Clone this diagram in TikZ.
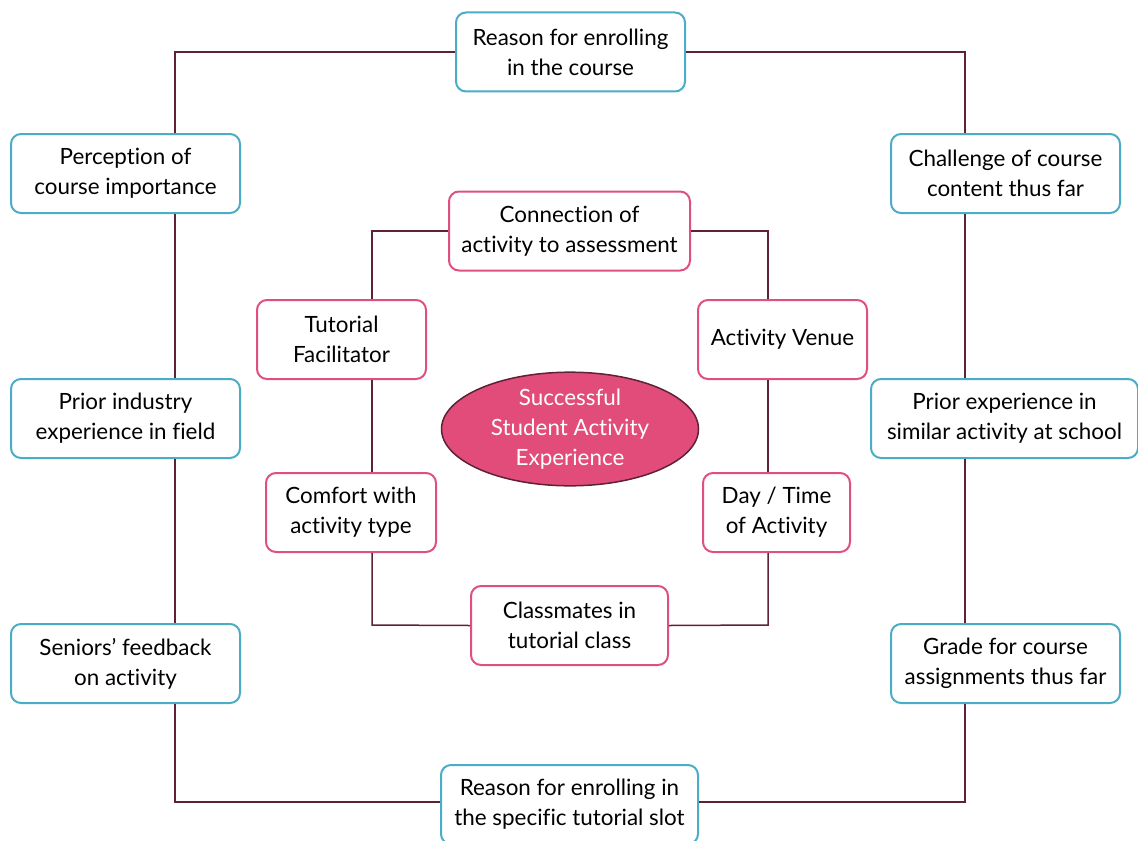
\documentclass[tikz,border=0pt]{standalone}
\usepackage{fontspec}
\setmainfont{Lato}[Ligatures=NoCommon]
\usetikzlibrary{shapes.geometric}
\definecolor{boxblue}{HTML}{4BACC6}
\definecolor{boxpink}{HTML}{E0507E}
\definecolor{ellfill}{HTML}{E24C7A}
\definecolor{linkline}{HTML}{5E2137}
\tikzset{
  base/.style={draw, rounded corners=5pt, line width=1pt, fill=white, align=center,
    minimum height=39.5pt, inner sep=1pt, font=\fontsize{11.2}{15}\selectfont},
  outerbox/.style={base, draw=boxblue},
  innerbox/.style={base, draw=boxpink},
  link/.style={draw=linkline, line width=0.75pt},
}
\begin{document}
\begin{tikzpicture}[x=0.5pt,y=-0.5pt]
    \useasboundingbox (0,0) rectangle (1138,840);
    % outer ring
    \node[outerbox, minimum width=114.5pt] (reason) at (570.5,52) {Reason for enrolling\\in the course};
    \node[outerbox, minimum width=114.5pt] (percep) at (125.5,173.5) {Perception of\\course importance};
    \node[outerbox, minimum width=114.5pt] (industry) at (125.5,418.5) {Prior industry\\experience in field};
    \node[outerbox, minimum width=114.5pt] (seniors) at (125.5,663.5) {Seniors' feedback\\on activity};
    \node[outerbox, minimum width=114.5pt] (challenge) at (1005.5,173.5) {Challenge of course\\content thus far};
    \node[outerbox, minimum width=133.5pt] (priorexp) at (1004.5,418.5) {Prior experience in\\similar activity at school};
    \node[outerbox, minimum width=114.5pt] (grade) at (1005.5,663.5) {Grade for course\\assignments thus far};
    \node[outerbox, minimum width=128.5pt] (slot) at (569.5,804.5) {Reason for enrolling in\\the specific tutorial slot};
    \coordinate (otl) at (175,52);
    \coordinate (otr) at (965,52);
    \coordinate (obl) at (175,802);
    \coordinate (obr) at (965,802);
    % inner ring
    \node[innerbox, minimum width=120.5pt] (assess) at (569.5,231) {Connection of\\activity to assessment};
    \node[innerbox, minimum width=84.5pt] (facil) at (341.5,339.5) {Tutorial\\Facilitator};
    \node[innerbox, minimum width=85pt] (comfort) at (351,512.5) {Comfort with\\activity type};
    \node[innerbox, minimum width=98.5pt] (classmates) at (569.5,625.5) {Classmates in\\tutorial class};
    \node[innerbox, minimum width=84.5pt] (venue) at (782.5,339.5) {Activity Venue};
    \node[innerbox, minimum width=73.5pt] (daytime) at (776.5,512.5) {Day / Time\\of Activity};
    \coordinate (itl) at (372,231);
    \coordinate (itr) at (768,231);
    \coordinate (ibl) at (372,625);
    \coordinate (ibr) at (768,625);
    % centre
    \node[ellipse, draw=linkline, line width=0.75pt, fill=ellfill, text=white, align=center,
      minimum width=128.5pt, minimum height=46pt, inner sep=0pt,
      font=\fontsize{11.2}{15}\selectfont] (core) at (570,429) {Successful\\Student Activity\\Experience};
    % outer connectors
    \draw[link] (reason.west) -- (otl) -- (otl |- percep.north);
    \draw[link] (otl |- percep.south) -- (otl |- industry.north);
    \draw[link] (otl |- industry.south) -- (otl |- seniors.north);
    \draw[link] (otl |- seniors.south) -- (obl) -- (obl -| slot.west);
    \draw[link] (reason.east) -- (otr) -- (otr |- challenge.north);
    \draw[link] (otr |- challenge.south) -- (otr |- priorexp.north);
    \draw[link] (otr |- priorexp.south) -- (otr |- grade.north);
    \draw[link] (otr |- grade.south) -- (obr) -- (obr -| slot.east);
    % inner connectors
    \draw[link] (assess.west) -- (itl) -- (itl |- facil.north);
    \draw[link] (itl |- facil.south) -- (itl |- comfort.north);
    \draw[link] (itl |- comfort.south) -- (ibl) -- (classmates.west);
    \draw[link] (assess.east) -- (itr) -- (itr |- venue.north);
    \draw[link] (itr |- venue.south) -- (itr |- daytime.north);
    \draw[link] (itr |- daytime.south) -- (ibr) -- (classmates.east);
\end{tikzpicture}
\end{document}
